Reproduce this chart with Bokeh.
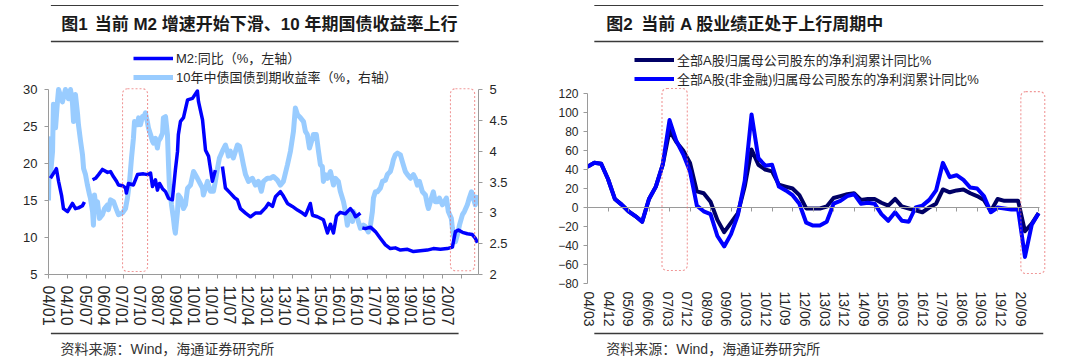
import numpy as np
from bokeh.plotting import figure
from bokeh.models import Range1d, LinearAxis, FixedTicker, Legend, LegendItem, BoxAnnotation
from bokeh.layouts import row, column
from bokeh.core.properties import value
from bokeh.embed import file_html
from bokeh.resources import INLINE

NaN = float("nan")

# ---------------- Chart 1 data (x = index along the time axis) ----------------
m2_x = [0.9, 3.3, 3.7, 4.7, 6.1, 7.0, 8.9, 11.2, 12.6, 14.0, 15.9, 16.8, 17.6,
        20.6, 22.0, 23.4, 25.2, 27.6, 29.0, 30.4, 31.8, 32.7, 34.6, 36.0, 36.4, 37.4,
        39.7, 41.6, 44.4, 46.3, 47.7, 48.6, 50.0, 50.9, 51.9, 53.3, 54.7, 56.1, 57.9,
        58.4, 59.3, 60.3, 60.7, 61.7, 63.1, 65.0, 67.3, 69.6, 70.1, 72.0, 73.4, 74.8,
        76.6, 78.0, 79.5, 81.3, 82.7, 85.0, 86.9, 88.3, 89.7, 92.1, 94.4, 96.7, 99.1,
        101.4, 102.8, 104.7, 106.1, 108.4, 109.8, 111.7, 114.0, 116.4, 118.7, 120.1,
        122.4, 123.4, 125.7, 127.1, 128.5, 130.4, 131.8, 133.2, 134.6, 136.4, 138.8,
        141.1, 142.5, 143.5, 145.8, 146.2, 146.7, 148.1, 150.5, 152.8, 155.1, 157.5,
        159.8, 162.1, 164.5, 167.8, 170.6, 173.8, 177.1, 179.9, 183.2, 186.4, 188.8,
        190.2, 191.6, 193.5, 195.8, 198.1, 199.5, 200.5]
m2_y = [18.0, 19.1, 19.3, 17.6, 15.7, 13.9, 13.5, 14.6, 13.9, 14.0, 14.3, 14.8, NaN,
        17.8, 18.0, 18.5, 19.2, 18.8, 18.9, 18.2, 17.6, 17.1, 17.0, 16.7, 16.0, 17.3,
        17.1, 18.5, 18.6, 18.5, 18.7, 16.9, 17.8, 16.4, 17.3, 16.6, 16.2, 15.3, 15.1,
        16.5, 19.1, 21.6, 23.9, 25.7, 26.2, 28.6, 28.8, 29.8, 28.4, 25.9, 21.8, 21.0,
        17.6, 19.1, NaN, 19.6, 16.7, 16.0, 15.4, 15.1, 13.9, 13.3, 12.8, 13.3, 13.3,
        14.0, 14.6, 14.2, 15.5, 16.2, 15.6, 14.6, 14.2, 13.7, 13.3, 13.0,
        14.6, 13.0, 12.8, 12.6, 12.4, 10.6, 11.8, 10.6, 12.9, 13.4, 13.2,
        13.9, 13.4, 12.8, 13.3, NaN, 11.3, 11.2, 11.4, 10.8, 9.9, 9.0,
        8.5, 8.6, 8.3, 8.4, 8.1, 8.2, 8.3, 8.5, 8.4, 8.5, 8.7,
        10.8, 11.0, 10.7, 10.5, 10.4, 9.9, 9.3]

yld_x = [0, 0.5, 0.9, 1.9, 2.3, 3.3, 4.2, 4.7, 6.5, 7.9, 9.3, 10.3, 11.2, 11.7, 12.6,
         13.6, 14.0, 15.0, 15.9, 16.4, 17.3, 18.2, 19.2, 19.6, 20.6, 21.0, 21.5, 22.4,
         22.9, 23.8, 25.2, 26.2, 27.6, 28.0, 29.0, 30.4, 31.8, 32.7, 34.6, 36.0, 36.9,
         37.9, 38.8, 39.7, 40.2, 41.6, 42.1, 43.0, 43.9, 44.4, 45.3, 46.3, 46.7, 47.7,
         48.6, 49.1, 50.0, 50.9, 51.4, 52.3, 53.3, 53.7, 54.7, 55.6, 56.1, 56.5, 57.5,
         58.4, 58.9, 59.3, 60.3, 60.7, 61.7, 63.1, 64.0, 65.0, 66.4, 67.8, 69.6, 72.0,
         72.4, 73.4, 74.3, 75.7, 77.1, 78.0, 79.0, 79.9, 81.3, 82.7, 83.6, 84.1, 85.0,
         86.4, 87.4, 88.3, 89.3, 90.2, 91.1, 92.1, 93.5, 95.3, 96.7, 98.1, 99.5, 100.5,
         102.3, 103.7, 105.1, 107.0, 108.4, 109.8, 111.7, 113.1, 114.5, 115.4, 116.4,
         117.8, 119.2, 120.1, 121.0, 122.0, 123.4, 123.8, 125.2, 126.2, 127.1, 128.0,
         128.5, 129.4, 130.4, 131.8, 133.2, 134.1, 135.5, 136.4, 137.9, 138.8, 139.7,
         140.2, 141.1, 142.1, 142.5, 144.4, 145.8, 147.2, 148.1, 149.5, 150.5, 151.4,
         151.9, 152.8, 153.7, 155.1, 156.1, 157.5, 158.4, 159.8, 160.7, 161.2, 162.1,
         163.1, 164.5, 165.4, 166.8, 167.8, 169.2, 170.6, 171.5, 172.4, 173.4, 174.8,
         176.2, 177.1, 177.6, 179.0, 179.9, 180.8, 181.8, 182.7, 184.1, 185.0, 186.0,
         186.9, 188.3, 188.8, 189.3, 190.2, 191.1, 192.1, 193.5, 194.4, 195.8, 196.7,
         197.7, 198.6, 199.5, 200.5]
yld_y = [3.2, 4.2, 3.6, 4.0, 4.76, 4.38, 4.81, 5.0, 4.8, 5.0, 4.85, 5.0, 4.78, 4.48, 4.92,
         4.6, 4.43, 4.16, 3.94, 3.72, 3.62, 3.45, 3.29, 3.24, 3.02, 2.8, 3.29, 3.02,
         3.18, 2.91, 2.97, 3.07, 3.13, 3.05, 3.21, 3.18, 3.05, 2.97, 3.0, 3.07, 3.24,
         3.51, 3.89, 4.21, 4.48, 4.43, 4.54, 4.43, 4.56, 4.54, 4.62, 4.46, 4.38, 4.27,
         4.16, 4.13, 4.21, 4.05, 4.16, 4.21, 4.29, 4.54, 4.56, 4.27, 3.78, 3.45, 3.13,
         2.91, 2.75, 2.67, 3.02, 3.29, 3.24, 3.07, 3.13, 3.4, 3.45, 3.67, 3.56, 3.4,
         3.29, 3.4, 3.51, 3.35, 3.35, 3.51, 3.72, 3.89, 4.0, 4.1, 4.0, 3.92, 4.0,
         3.89, 4.0, 4.1, 4.08, 3.94, 3.78, 3.62, 3.51, 3.56, 3.45, 3.51, 3.35, 3.51,
         3.56, 3.56, 3.59, 3.53, 3.45, 3.51, 3.78, 4.0, 4.32, 4.70, 4.59,
         4.54, 4.48, 4.32, 4.27, 4.05, 4.21, 4.27, 4.27, 4.0, 3.78, 3.75,
         3.51, 3.62, 3.56, 3.67, 3.45, 3.56, 3.51, 3.35, 3.18, 3.02, 2.80,
         2.91, 2.97, 2.86, 3.02, 2.91, 2.75, 2.80, 2.78, 2.69, 2.80, 3.02,
         3.24, 3.34, 3.34, 3.40, 3.51, 3.53, 3.62, 3.67, 3.78, 3.86, 3.94,
         3.97, 3.94, 3.83, 3.67, 3.62, 3.56, 3.62, 3.56, 3.45, 3.51, 3.34,
         3.29, 3.13, 3.07, 3.24, 3.34, 3.18, 3.18, 3.24, 3.13, 3.18, 3.24,
         3.02, 2.91, 2.75, 2.64, 2.53, 2.64, 2.80, 2.97, 3.02, 3.13, 3.24,
         3.34, 3.24, 3.13, 3.29]

c1_labels = ["04/01", "04/10", "05/07", "06/04", "07/01", "07/10", "08/07", "09/04",
             "10/01", "10/10", "11/07", "12/04", "13/01", "13/10", "14/07", "15/04",
             "16/01", "16/10", "17/07", "18/04", "19/01", "19/10", "20/07"]
c1_highlights = [(34.6, 46.3, 5.4, 30.1), (187.9, 199.2, 5.5, 30.1)]

# ---------------- Chart 2 data (quarterly, x = quarter index from 04/03) ----------------
q_idx = list(range(67))
all_a = [43, 47, 46, 30, 9, 3, -4, -9, -15, 9, 22, 45, 81, 69, 60, 47, 17, 15, 6, -13,
         -26, -16, -6, 22, 61, 45, 40, 38, 24, 22, 20, 13, -1, -1, -1, 1, 10, 12, 14, 15,
         8, 9, 9, 5, 2, 9, 1, -1, -3, -5, 0, 4, 19, 16, 18, 19, 15, 12, 8, -4,
         9, 7, 7, 7, -25, -17, -6]
nonfin_a = [43, 47, 46, 30, 9, 3, -4, -9, -15, 9, 22, 45, 92, 70, 56, 38, 2, -4, -7, -30,
            -41, -28, -8, 28, 98, 52, 44, 45, 22, 18, 13, 4, -16, -19, -19, -15, 4, 7, 12, 14,
            4, 5, 4, -7, -14, -5, -14, -15, 0, 2, 8, 18, 47, 32, 34, 29, 21, 20, 12, -5,
            0, -1, -2, -2, -52, -18, -6]
c2_labels = ["04/03", "04/12", "05/09", "06/06", "07/03", "07/12", "08/09", "09/06",
             "10/03", "10/12", "11/09", "12/06", "13/03", "13/12", "14/09", "15/06",
             "16/03", "16/12", "17/09", "18/06", "19/03", "19/12", "20/09"]
c2_highlights = [(10.9, 14.6, -66.3, 125.3), (63.4, 66.9, -69.5, 122.0)]

# ---------------- styling ----------------
GRAY = "#9a9a9a"
TXT = "#262626"
LAT = "Liberation Sans"
MIX = "Liberation Sans, Noto Sans CJK SC"
BOX = "#ea6c6c"
COLW = 540
HEAD_H, CHART_H, FOOT_H = 46, 285, 31


def header(fig_lbl, title, lbl_x, title_x, x0, x1):
    h = figure(width=COLW, height=HEAD_H, x_range=Range1d(0, COLW), y_range=Range1d(0, HEAD_H),
               title=None, toolbar_location=None, output_backend="svg", min_border=0,
               x_axis_location=None, y_axis_location=None, outline_line_color=None)
    h.grid.visible = False
    h.segment(x0=[x0], y0=[HEAD_H - 5], x1=[x1], y1=[HEAD_H - 5], line_color="#3a3a3a", line_width=1)
    h.segment(x0=[x0], y0=[5], x1=[x1], y1=[5], line_color="#3a3a3a", line_width=1.6)
    h.text(x=[lbl_x, title_x], y=[HEAD_H - 24, HEAD_H - 24], text=[fig_lbl, title],
           text_font=value(MIX), text_font_style="bold", text_font_size="17px",
           text_baseline="middle", text_color="#1a1a1a")
    return h


def footer(x0, x1, tx):
    f = figure(width=COLW, height=FOOT_H, x_range=Range1d(0, COLW), y_range=Range1d(0, FOOT_H),
               title=None, toolbar_location=None, output_backend="svg", min_border=0,
               x_axis_location=None, y_axis_location=None, outline_line_color=None)
    f.grid.visible = False
    f.segment(x0=[x0], y0=[FOOT_H - 2], x1=[x1], y1=[FOOT_H - 2], line_color="#3a3a3a", line_width=1.6)
    f.text(x=[tx], y=[FOOT_H - 17], text=["资料来源：Wind，海通证券研究所"], text_font=value(MIX),
           text_font_size="14px", text_baseline="middle", text_color="#333333")
    return f


def style_axis(ax, size):
    ax.axis_line_color = GRAY
    ax.major_tick_line_color = GRAY
    ax.major_tick_out = 4
    ax.major_tick_in = 0
    ax.minor_tick_line_color = None
    ax.major_label_text_font = LAT
    ax.major_label_text_font_size = size
    ax.major_label_text_color = TXT


def add_boxes(p, boxes):
    for (l, r, b, t) in boxes:
        p.add_layout(BoxAnnotation(left=l, right=r, bottom=b, top=t, fill_color=None,
                                   line_color=BOX, line_alpha=0.7, line_dash="2 2",
                                   line_width=1.1, border_radius=5))


# ---------------- chart 1 ----------------
pad1, span1, bot1 = 43, 185, 57
p1 = figure(width=COLW, height=CHART_H, title=None, toolbar_location=None, output_backend="svg",
            x_range=Range1d(0, 201), y_range=Range1d(5, 30 + 25 * pad1 / span1),
            min_border_left=48, min_border_right=62, min_border_top=0, min_border_bottom=bot1,
            x_axis_location=None, y_axis_location=None, outline_line_color=None)
p1.grid.visible = False
p1.extra_y_ranges = {"r": Range1d(2, 5 + 3 * pad1 / span1)}

axl = LinearAxis(ticker=FixedTicker(ticks=[5, 10, 15, 20, 25, 30], minor_ticks=[]), bounds=(5, 30))
style_axis(axl, "13px")
axl.major_label_standoff = 7
p1.add_layout(axl, "left")

axr = LinearAxis(y_range_name="r", ticker=FixedTicker(ticks=[2, 2.5, 3, 3.5, 4, 4.5, 5], minor_ticks=[]),
                 bounds=(2, 5))
style_axis(axr, "13px")
axr.major_label_standoff = 7
p1.add_layout(axr, "right")

lab1_pos = [round(0.14 + 8.462 * k, 3) for k in range(len(c1_labels))]
tick1_pos = [round(0.14 + 8.765 * k, 3) for k in range(23)]
axb = LinearAxis(ticker=FixedTicker(ticks=lab1_pos, minor_ticks=tick1_pos),
                 major_label_overrides={pos: lab for pos, lab in zip(lab1_pos, c1_labels)})
style_axis(axb, "16px")
axb.major_tick_line_color = None
axb.major_tick_out = 0
axb.minor_tick_line_color = GRAY
axb.minor_tick_out = 4
axb.minor_tick_in = 0
axb.major_label_orientation = "vertical"
axb.major_label_standoff = 7
p1.add_layout(axb, "below")

add_boxes(p1, c1_highlights)

r_yld = p1.line(np.array(yld_x), np.array(yld_y), y_range_name="r", line_color="#99ccff",
                line_width=5, line_join="round")
r_m2 = p1.line(np.array(m2_x, dtype=float), np.array(m2_y, dtype=float), line_color="#0000ff",
               line_width=3.5, line_join="round")

leg1 = Legend(items=[LegendItem(label="M2:同比（%，左轴）", renderers=[r_m2]),
                     LegendItem(label="10年中债国债到期收益率（%，右轴）", renderers=[r_yld])],
              location=(85, 188), orientation="vertical", background_fill_alpha=0,
              border_line_color=None, glyph_width=40, glyph_height=16, label_height=16,
              label_standoff=3, spacing=0, padding=0, margin=0,
              label_text_font=MIX, label_text_font_size="13px", label_text_color=TXT)
p1.add_layout(leg1)

# ---------------- chart 2 ----------------
pad2, bot2 = 47, 48
p2 = figure(width=COLW, height=CHART_H, title=None, toolbar_location=None, output_backend="svg",
            x_range=Range1d(0, 67.3), y_range=Range1d(-80, 120 + pad2 / 0.95),
            min_border_left=47, min_border_right=33, min_border_top=0, min_border_bottom=bot2,
            x_axis_location=None, y_axis_location=None, outline_line_color=None)
p2.grid.visible = False

ay2 = LinearAxis(ticker=FixedTicker(ticks=list(range(-80, 121, 20)), minor_ticks=[]), bounds=(-80, 120))
style_axis(ay2, "12px")
ay2.major_label_standoff = 5
p2.add_layout(ay2, "left")

zero_ticks = list(range(0, 67, 3))
ax0 = LinearAxis(ticker=FixedTicker(ticks=zero_ticks, minor_ticks=[]),
                 fixed_location=0, bounds=(0, 66.2),
                 major_label_overrides={t: "" for t in zero_ticks})
style_axis(ax0, "1px")
ax0.major_label_text_color = None
ax0.major_label_standoff = 0
p2.add_layout(ax0, "below")

lab2_pos = [round(0.26 + 2.868 * k, 3) for k in range(len(c2_labels))]
axb2 = LinearAxis(ticker=FixedTicker(ticks=lab2_pos, minor_ticks=[]),
                  major_label_overrides={pos: lab for pos, lab in zip(lab2_pos, c2_labels)})
style_axis(axb2, "14px")
axb2.axis_line_color = None
axb2.major_tick_line_color = None
axb2.major_tick_out = 0
axb2.major_label_orientation = "vertical"
axb2.major_label_standoff = 8
p2.add_layout(axb2, "below")

add_boxes(p2, c2_highlights)

r_all = p2.line(q_idx, all_a, line_color="#000066", line_width=4, line_join="round")
r_nf = p2.line(q_idx, nonfin_a, line_color="#0000ff", line_width=4, line_join="round")

leg2 = Legend(items=[LegendItem(label="全部A股归属母公司股东的净利润累计同比%", renderers=[r_all]),
                     LegendItem(label="全部A股(非金融)归属母公司股东的净利润累计同比%", renderers=[r_nf])],
              location=(47, 195), orientation="vertical", background_fill_alpha=0,
              border_line_color=None, glyph_width=40, glyph_height=17, label_height=17,
              label_standoff=3, spacing=0, padding=0, margin=0,
              label_text_font=MIX, label_text_font_size="13px", label_text_color=TXT)
p2.add_layout(leg2)

left_col = column(header("图1", "当前 M2 增速开始下滑、10 年期国债收益率上行", 16, 58, 3, 515),
                  p1, footer(3, 515, 15))
right_col = column(header("图2", "当前 A 股业绩正处于上行周期中", 22, 63, 8, 535),
                   p2, footer(8, 535, 22))
layout = row(left_col, right_col)

open("out.html", "w").write(file_html(layout, INLINE))
